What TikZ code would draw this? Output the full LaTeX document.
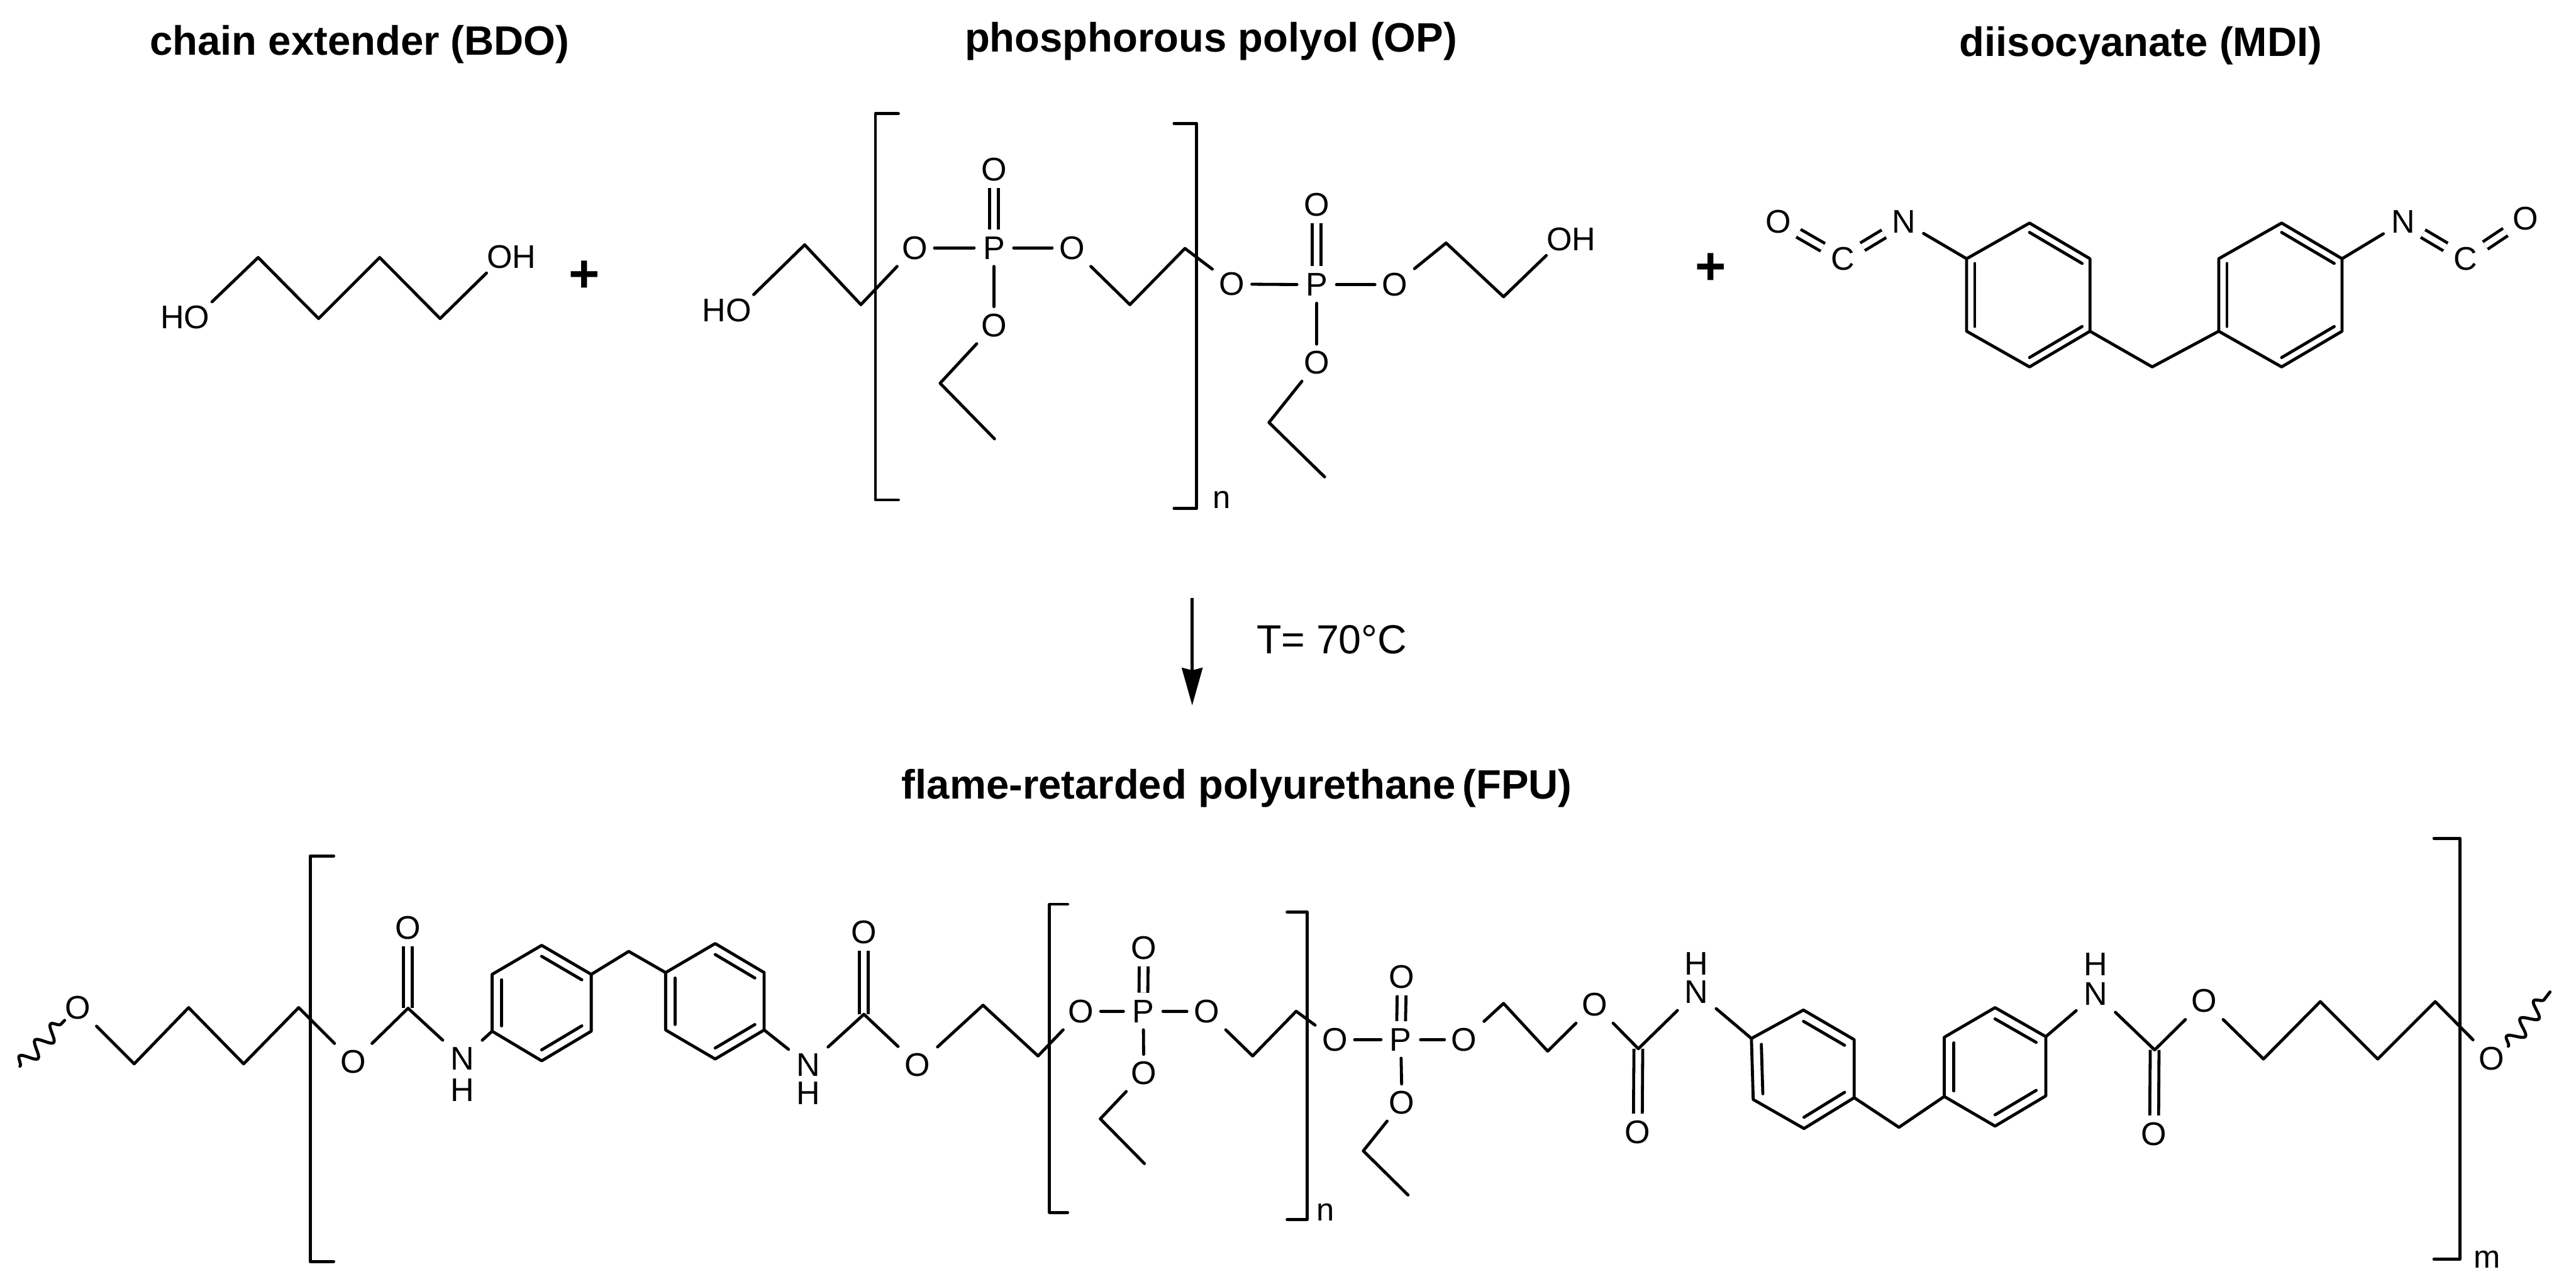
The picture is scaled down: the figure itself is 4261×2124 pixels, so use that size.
\documentclass[tikz,border=0pt]{standalone}
\usepackage{fontspec}
\setmainfont{Liberation Sans}
\usetikzlibrary{calc,arrows.meta,decorations.pathmorphing}
\newcommand{\ringinset}{.13}
\newcommand{\ringsix}[7]{%
  \coordinate (#1t) at (#2);
  \coordinate (#1u) at (#3);
  \coordinate (#1r) at (#4);
  \coordinate (#1b) at (#5);
  \coordinate (#1l) at (#6);
  \coordinate (#1k) at (#7);
  \coordinate (#1m) at ($(#1t)!.5!(#1b)$);
  \draw[bond] (#1t) -- (#1u) -- (#1r) -- (#1b) -- (#1l) -- (#1k) -- cycle;
  \draw[bond] ($(#1t)!\ringinset!(#1m)$) -- ($(#1u)!\ringinset!(#1m)$);
  \draw[bond] ($(#1r)!\ringinset!(#1m)$) -- ($(#1b)!\ringinset!(#1m)$);
  \draw[bond] ($(#1l)!\ringinset!(#1m)$) -- ($(#1k)!\ringinset!(#1m)$);
}
\tikzset{
  bond/.style={line width=.05cm,line join=round,line cap=round,black},
  dbond/.style={line width=.05cm,double=white,double distance=.095cm,black},
  atom/.style={rectangle,inner sep=0pt,minimum width=.64cm,minimum height=.6cm,font=\fontsize{15.4pt}{18pt}\selectfont},
  multi/.style={rectangle,inner sep=0pt,minimum width=.88cm,minimum height=.5cm,font=\fontsize{15.4pt}{18pt}\selectfont},
  idx/.style={inner sep=0pt,font=\fontsize{15pt}{18pt}\selectfont},
  titletext/.style={inner sep=0pt,font=\fontsize{19.3pt}{23pt}\selectfont\bfseries},
  plussign/.style={inner sep=0pt,font=\fontsize{25pt}{30pt}\selectfont\bfseries},
  condtext/.style={inner sep=0pt,font=\fontsize{19.1pt}{23pt}\selectfont},
  wave/.style={bond,decorate,decoration={snake,segment length=10.5pt,amplitude=3.6pt}}
}
\begin{document}
\begin{tikzpicture}[x=0.01cm,y=-0.01cm]
\useasboundingbox (0,0) rectangle (4261,2124);
% titles
\node[titletext] (t1) at (595,73) {chain extender (BDO)};
\node[titletext] (t2) at (2003,68) {phosphorous polyol (OP)};
\node[titletext] (t3) at (3541,76) {diisocyanate (MDI)};
\node[titletext] (t4) at (2046,1304) {flame-retarded polyurethane\,(FPU)};
% BDO
\node[multi] (bho) at (306,525) {HO};
\node[multi,minimum width=.8cm,minimum height=.52cm] (boh) at (846,425) {OH};
\coordinate (b1) at (427,426);
\coordinate (b2) at (527,527);
\coordinate (b3) at (628,426);
\coordinate (b4) at (728,527);
\draw[bond] (bho.north east) -- (b1) -- (b2) -- (b3) -- (b4) -- (boh.south west);
\node[plussign] (plus1) at (967,457) {+};
% OP
\node[multi] (pho) at (1202,513) {HO};
\coordinate (p1) at (1331,405);
\coordinate (p2) at (1424,504);
\node[atom] (po1) at (1513,410) {O};
\node[atom] (pp1) at (1644,410) {P};
\node[atom] (po2) at (1773,410) {O};
\node[atom] (po3) at (1644,280) {O};
\node[atom] (po4) at (1644,538) {O};
\coordinate (p3) at (1555,634);
\coordinate (p4) at (1645,726);
\coordinate (p5) at (1869,504);
\coordinate (p6) at (1960,411);
\node[atom] (po5) at (2038,470) {O};
\node[atom] (pp2) at (2178,471) {P};
\node[atom] (po6) at (2307,471) {O};
\node[atom] (po7) at (2178,339) {O};
\node[atom] (po8) at (2178,600) {O};
\coordinate (p7) at (2099,699);
\coordinate (p8) at (2191,789);
\coordinate (p9) at (2392,402);
\coordinate (p10) at (2487,491);
\node[multi,minimum width=.8cm,minimum height=.52cm] (poh) at (2599,396) {OH};
\draw[bond] (pho.north east) -- (p1) -- (p2) -- (po1);
\draw[bond] (po1) -- (pp1);
\draw[bond] (pp1) -- (po2);
\draw[dbond] (pp1) -- (po3);
\draw[bond] (pp1) -- (po4);
\draw[bond] (po4) -- (p3) -- (p4);
\draw[bond] (po2) -- (p5) -- (p6) -- (po5);
\draw[bond] (po5) -- (pp2);
\draw[bond] (pp2) -- (po6);
\draw[dbond] (pp2) -- (po7);
\draw[bond] (pp2) -- (po8);
\draw[bond] (po8) -- (p7) -- (p8);
\draw[bond] (po6) -- (p9) -- (p10) -- (poh.south west);
\draw[bond] (1486,188) -- (1448,188) -- (1448,827) -- (1486,827);
\draw[bond] (1942,204) -- (1979,204) -- (1979,841) -- (1942,841);
\node[idx] (pn) at (2021,827) {n};
\node[plussign] (plus2) at (2830,445) {+};
% MDI
\node[atom] (mo1) at (2942,367) {O};
\node[atom] (mc1) at (3048,428) {C};
\node[atom] (mn1) at (3149,367) {N};
\node[atom] (mn2) at (3975,367) {N};
\node[atom] (mc2) at (4078,428) {C};
\node[atom] (mo2) at (4177,362) {O};
\draw[dbond] (mo1) -- (mc1);
\draw[dbond] (mc1) -- (mn1);
\draw[dbond] (mn2) -- (mc2);
\draw[dbond] (mc2) -- (mo2);
\ringsix{ma}{3357,369}{3457,428}{3457,548}{3357,607}{3253,548}{3253,428}
\ringsix{mb}{3774,369}{3874,428}{3874,548}{3774,607}{3670,548}{3670,428}
\coordinate (mch) at (3560,607);
\draw[bond] (mn1) -- (mak);
\draw[bond] (mar) -- (mch) -- (mbl);
\draw[bond] (mbu) -- (mn2);
% reaction arrow
\coordinate (ar1) at (1972,989);
\coordinate (ar2) at (1972,1167);
\draw[line width=.055cm,black,-{Stealth[length=.62cm,width=.34cm,inset=.04cm]}] (ar1) -- (ar2);
\node[condtext] (cond) at (2203,1058) {T= 70°C};
% FPU
\renewcommand{\ringinset}{.19}
\coordinate (w1) at (33,1764);
\coordinate (w2) at (107,1688);
\draw[wave] (w1) -- (w2);
\node[atom] (oa) at (129,1667) {O};
\coordinate (f1) at (222,1760);
\coordinate (f2) at (312,1667);
\coordinate (f3) at (403,1760);
\coordinate (f4) at (494,1667);
\node[atom] (ob) at (584,1757) {O};
\coordinate (ca) at (675,1668);
\node[atom] (oc) at (675,1535) {O};
\node[atom] (na) at (765,1751) {N};
\node[atom] (ha) at (765,1803) {H};
\draw[bond] (oa) -- (f1) -- (f2) -- (f3) -- (f4) -- (ob);
\draw[dbond] (ca) -- (oc);
\draw[bond] (ob) -- (ca) -- (na);
\ringsix{ra}{896,1564}{978,1612}{978,1706}{896,1755}{814,1706}{814,1612}
\ringsix{rb}{1183,1561}{1264,1609}{1264,1704}{1183,1752}{1101,1704}{1101,1609}
\coordinate (cha) at (1040,1574);
\draw[bond] (na) -- (ral);
\draw[bond] (rau) -- (cha) -- (rbk);
\node[atom] (nb) at (1337,1762) {N};
\node[atom] (hb) at (1337,1809) {H};
\coordinate (cb) at (1429,1678);
\node[atom] (od) at (1429,1542) {O};
\node[atom] (oe) at (1518,1762) {O};
\draw[bond] (rbr) -- (nb);
\draw[dbond] (cb) -- (od);
\draw[bond] (nb) -- (cb) -- (oe);
\coordinate (g1) at (1626,1663);
\coordinate (g2) at (1717,1747);
\node[atom] (of) at (1788,1673) {O};
\node[atom] (pa) at (1891,1673) {P};
\node[atom] (og) at (1892,1568) {O};
\node[atom] (oh) at (1892,1775) {O};
\coordinate (g3) at (1820,1851);
\coordinate (g4) at (1893,1925);
\node[atom] (oi) at (1996,1673) {O};
\coordinate (g5) at (2072,1747);
\coordinate (g6) at (2144,1673);
\node[atom] (oj) at (2208,1720) {O};
\node[atom] (pb) at (2317,1720) {P};
\node[atom] (ok) at (2319,1616) {O};
\node[atom] (ol) at (2319,1824) {O};
\coordinate (g7) at (2255,1904);
\coordinate (g8) at (2329,1977);
\node[atom] (om) at (2422,1720) {O};
\coordinate (g9) at (2487,1660);
\coordinate (g10) at (2560,1739);
\node[atom] (on) at (2638,1662) {O};
\coordinate (cc) at (2710,1735);
\node[atom] (oo) at (2709,1873) {O};
\node[atom] (nc) at (2806,1641) {N};
\node[atom] (hc) at (2806,1594) {H};
\draw[bond] (oe) -- (g1) -- (g2) -- (of);
\draw[bond] (of) -- (pa);
\draw[bond] (pa) -- (oi);
\draw[dbond] (pa) -- (og);
\draw[bond] (pa) -- (oh);
\draw[bond] (oh) -- (g3) -- (g4);
\draw[bond] (oi) -- (g5) -- (g6) -- (oj);
\draw[bond] (oj) -- (pb);
\draw[bond] (pb) -- (om);
\draw[dbond] (pb) -- (ok);
\draw[bond] (pb) -- (ol);
\draw[bond] (ol) -- (g7) -- (g8);
\draw[bond] (om) -- (g9) -- (g10) -- (on);
\draw[dbond] (cc) -- (oo);
\draw[bond] (on) -- (cc) -- (nc);
\ringsix{rc}{2983,1671}{3067,1720}{3067,1816}{2984,1867}{2900,1819}{2897,1718}
\ringsix{rd}{3300,1667}{3384,1715}{3384,1813}{3300,1863}{3216,1814}{3216,1716}
\coordinate (chb) at (3141,1865);
\draw[bond] (nc) -- (rck);
\draw[bond] (rcr) -- (chb) -- (rdl);
\node[atom] (nd) at (3467,1644) {N};
\node[atom] (hd) at (3467,1595) {H};
\coordinate (cd) at (3564,1737);
\node[atom] (op) at (3563,1876) {O};
\node[atom] (oq) at (3646,1656) {O};
\coordinate (g11) at (3744,1752);
\coordinate (g12) at (3838,1657);
\coordinate (g13) at (3933,1752);
\coordinate (g14) at (4028,1657);
\node[atom] (or) at (4121,1751) {O};
\draw[bond] (rdu) -- (nd);
\draw[dbond] (cd) -- (op);
\draw[bond] (nd) -- (cd) -- (oq);
\draw[bond] (oq) -- (g11) -- (g12) -- (g13) -- (g14) -- (or);
\coordinate (w3) at (4149,1731);
\coordinate (w4) at (4218,1641);
\draw[wave] (w3) -- (w4);
% brackets
\draw[bond] (552,1416) -- (513,1416) -- (513,2087) -- (552,2087);
\draw[bond] (4026,1387) -- (4069,1387) -- (4069,2083) -- (4026,2083);
\node[idx] (fm) at (4114,2084) {m};
\draw[bond] (1766,1496) -- (1736,1496) -- (1736,2006) -- (1766,2006);
\draw[bond] (2129,1509) -- (2162,1509) -- (2162,2018) -- (2129,2018);
\node[idx] (fn) at (2192,2006) {n};
\end{tikzpicture}
\end{document}
